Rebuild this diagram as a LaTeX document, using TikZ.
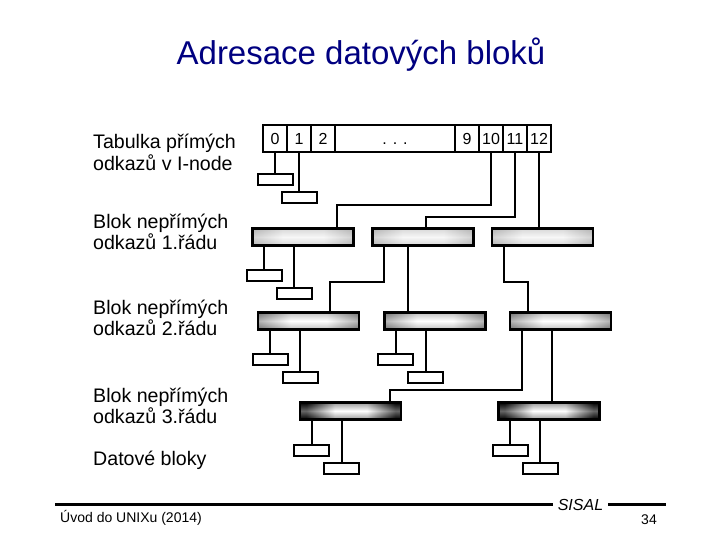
\documentclass[tikz,border=0pt]{standalone}
\usepackage{fontspec}
\setmainfont{Liberation Sans}
\usetikzlibrary{calc}
\definecolor{titleblue}{RGB}{0,0,128}
\definecolor{edgeone}{gray}{0.70}
\definecolor{midone}{gray}{0.97}
\definecolor{edgetwo}{gray}{0.45}
\definecolor{edgethree}{gray}{0.0}
\pgfdeclarehorizontalshading{hone}{100bp}{color(0bp)=(edgeone); color(25bp)=(edgeone); color(40bp)=(midone); color(60bp)=(midone); color(75bp)=(edgeone); color(100bp)=(edgeone)}
\pgfdeclareverticalshading{vone}{100bp}{color(0bp)=(edgeone); color(25bp)=(edgeone); color(50bp)=(midone); color(75bp)=(edgeone); color(100bp)=(edgeone)}
\pgfdeclarehorizontalshading{htwo}{100bp}{color(0bp)=(edgetwo); color(25bp)=(edgetwo); color(41bp)=(white); color(59bp)=(white); color(75bp)=(edgetwo); color(100bp)=(edgetwo)}
\pgfdeclareverticalshading{vtwo}{100bp}{color(0bp)=(edgetwo); color(25bp)=(edgetwo); color(50bp)=(white); color(75bp)=(edgetwo); color(100bp)=(edgetwo)}
\pgfdeclarehorizontalshading{hthree}{100bp}{color(0bp)=(edgethree); color(28bp)=(edgethree); color(42bp)=(white); color(58bp)=(white); color(72bp)=(edgethree); color(100bp)=(edgethree)}
\pgfdeclareverticalshading{vthree}{100bp}{color(0bp)=(edgethree); color(25bp)=(edgethree); color(50bp)=(white); color(75bp)=(edgethree); color(100bp)=(edgethree)}
\begin{document}
\begin{tikzpicture}[x=1pt,y=-1pt,
  lw/.style={line width=2pt},
  cell/.style={draw, lw, minimum width=24pt, minimum height=27pt, inner sep=0pt,
    text height=11.5pt, text depth=0pt, font=\fontsize{16}{18}\selectfont},
  dbox/.style={draw, lw, fill=white, minimum width=35pt, minimum height=11pt, inner sep=0pt},
  blk/.style={draw, line width=2.2pt, minimum width=101pt, minimum height=17pt, inner sep=0pt},
  blkone/.style={blk, shade, shading=hone,
    path picture={\shade[shading=vone, fill opacity=0.45] (path picture bounding box.south west) rectangle (path picture bounding box.north east);}},
  blktwo/.style={blk, shade, shading=htwo,
    path picture={\shade[shading=vtwo, fill opacity=0.45] (path picture bounding box.south west) rectangle (path picture bounding box.north east);}},
  blkthree/.style={blk, shade, shading=hthree,
    path picture={\shade[shading=vthree, fill opacity=0.4] (path picture bounding box.south west) rectangle (path picture bounding box.north east);}},
  conn/.style={draw, lw},
  lab/.style={anchor=base west, align=left, inner sep=0pt,
    font=\fontsize{19.6}{21.3}\selectfont},
  foot/.style={inner sep=0pt, font=\fontsize{14}{16}\selectfont}
]
\useasboundingbox (0,0) rectangle (720,540);

% title
\node[anchor=base, inner sep=0pt, text=titleblue, font=\fontsize{33}{39}\selectfont] (title) at (361,65) {Adresace datových bloků};

% labels (base anchor = baseline of the last line)
\node[lab] (l0) at (93,170.3) {Tabulka přímých\\odkazů v I-node};
\node[lab] (l1) at (93,249.6) {Blok nepřímých\\odkazů 1.řádu};
\node[lab] (l2) at (93,335.3) {Blok nepřímých\\odkazů 2.řádu};
\node[lab] (l3) at (93,423.3) {Blok nepřímých\\odkazů 3.řádu};
\node[lab] (l4) at (93,465) {Datové bloky};

% i-node table
\node[cell] (c0) at (275,138.5) {0};
\node[cell] (c1) at (299,138.5) {1};
\node[cell] (c2) at (323,138.5) {2};
\node[cell, minimum width=120pt] (cd) at (395,138.5) {. . .};
\node[cell] (c9) at (467,138.5) {9};
\node[cell] (c10) at (491,138.5) {10};
\node[cell] (c11) at (515,138.5) {11};
\node[cell] (c12) at (539,138.5) {12};

% direct data blocks
\node[dbox] (a0) at (275,179.5) {};
\node[dbox] (a1) at (299,197.5) {};
\draw[conn] (c0.south) -- (a0.north);
\draw[conn] (c1.south) -- (a1.north);

% level 1 blocks
\node[blkone] (b11) at (303,237) {};
\node[blkone] (b12) at (423,237) {};
\node[blkone] (b13) at (542.5,237) {};
\coordinate (k10) at (337,205);
\coordinate (k11) at (426,216.7);
\draw[conn] (c10.south) |- (k10) -- (k10 |- b11.north);
\draw[conn] (c11.south) |- (k11) -- (k11 |- b12.north);
\draw[conn] (c12.south) -- (c12.south |- b13.north);

% level 1 children
\node[dbox] (d1) at (264,275.5) {};
\node[dbox] (d2) at (294,293.7) {};
\draw[conn] (b11.south -| d1.north) -- (d1.north);
\draw[conn] (b11.south -| d2.north) -- (d2.north);

% level 2 blocks
\node[blktwo] (b21) at (308.7,320.9) {};
\node[blktwo] (b22) at (435,320.9) {};
\node[blktwo] (b23) at (560.8,320.9) {};
\coordinate (m1) at (384,281.7);
\coordinate (m1e) at (330,281.7);
\coordinate (m2) at (407.7,281.7);
\coordinate (m3) at (504,281.7);
\coordinate (m3e) at (528.3,281.7);
\draw[conn] (b12.south -| m1) -- (m1) -- (m1e) -- (m1e |- b21.north);
\draw[conn] (b12.south -| m2) -- (m2 |- b22.north);
\draw[conn] (b13.south -| m3) -- (m3) -- (m3e) -- (m3e |- b23.north);

% level 2 children
\node[dbox] (e1) at (270,359.7) {};
\node[dbox] (e2) at (300,377.9) {};
\node[dbox] (e3) at (395.8,359.7) {};
\node[dbox] (e4) at (425.8,377.9) {};
\draw[conn] (b21.south -| e1.north) -- (e1.north);
\draw[conn] (b21.south -| e2.north) -- (e2.north);
\draw[conn] (b22.south -| e3.north) -- (e3.north);
\draw[conn] (b22.south -| e4.north) -- (e4.north);

% level 3 blocks
\node[blkthree] (b31) at (350.8,410.9) {};
\node[blkthree] (b32) at (549,410.9) {};
\coordinate (n1) at (522.3,390);
\coordinate (n1e) at (390,390);
\coordinate (n2) at (551.7,390);
\draw[conn] (b23.south -| n1) -- (n1) -- (n1e) -- (n1e |- b31.north);
\draw[conn] (b23.south -| n2) -- (n2 |- b32.north);

% level 3 children
\node[dbox] (f1) at (311.7,450) {};
\node[dbox] (f2) at (341.7,468) {};
\node[dbox] (f3) at (510,450) {};
\node[dbox] (f4) at (540,468) {};
\draw[conn] (b31.south -| f1.north) -- (f1.north);
\draw[conn] (b31.south -| f2.north) -- (f2.north);
\draw[conn] (b32.south -| f3.north) -- (f3.north);
\draw[conn] (b32.south -| f4.north) -- (f4.north);

% footer
\node[anchor=base, inner sep=0pt, inner xsep=5pt, font=\fontsize{16}{18}\selectfont\itshape] (sisal) at (580.5,510) {SISAL};
\coordinate (fl) at (55,504.5);
\coordinate (fr) at (666,504.5);
\draw[line width=2.5pt] (fl) -- (fl -| sisal.west);
\draw[line width=2.5pt] (sisal.east |- fr) -- (fr);
\node[foot, anchor=base west] (src) at (60,522) {Úvod do UNIXu (2014)};
\node[foot, anchor=base east] (pg) at (657,524) {34};
\end{tikzpicture}
\end{document}
